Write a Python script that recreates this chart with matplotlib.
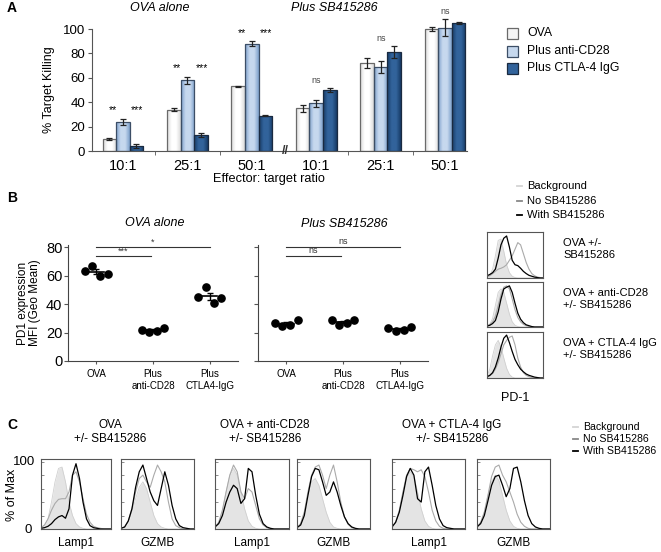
import matplotlib.pyplot as plt
from matplotlib.patches import Rectangle
from matplotlib.lines import Line2D
from matplotlib.colors import LinearSegmentedColormap
import numpy as np

plt.rcParams['font.family'] = ['Liberation Sans', 'DejaVu Sans']

# ---- Panel A: % target killing ----
ratios = ['10:1', '25:1', '50:1', '10:1', '25:1', '50:1']
kill_ova = [10, 34, 53, 35, 72, 100]
kill_ova_err = [1, 1, 0.5, 3, 4, 1.5]
kill_cd28 = [24, 58, 88, 39, 69, 101]
kill_cd28_err = [2.5, 3, 2, 3, 5, 7]
kill_ctla4 = [4, 13, 29, 50, 81, 105]
kill_ctla4_err = [1.5, 1.5, 0.5, 2, 5, 0.5]
kill_sig = ['stars', 'stars', 'stars', 'ns', 'ns', 'ns']
kill_labels = ['OVA', 'Plus anti-CD28', 'Plus CTLA-4 IgG']

# ---- Panel B: PD1 MFI ----
pd1_groups = ['OVA', 'Plus\nanti-CD28', 'Plus\nCTLA4-IgG']
pd1_ova_alone = [[63, 67, 60, 61], [22, 20.5, 21, 23], [45, 52, 41, 44]]
pd1_plus_sb = [[26.5, 24.5, 25.5, 28.5], [28.5, 25.5, 26.5, 29], [23, 21, 22, 24]]
pd1_sig_ova = ['***', '*']
pd1_sig_sb = ['ns', 'ns']
pd1_hist_labels = ['OVA +/-\nSB415286', 'OVA + anti-CD28\n+/- SB415286',
                   'OVA + CTLA-4 IgG\n+/- SB415286']

# histogram curves (% of max) sampled on 21 even steps across each box
pd1_bg = [
    [2, 5, 20, 50, 85, 88, 60, 30, 12, 4, 1, 0, 0, 0, 0, 0, 0, 0, 0, 0, 0],
    [2, 6, 20, 50, 80, 88, 80, 55, 30, 12, 4, 1, 0, 0, 0, 0, 0, 0, 0, 0, 0],
    [5, 20, 50, 75, 85, 70, 45, 22, 8, 2, 0, 0, 0, 0, 0, 0, 0, 0, 0, 0, 0],
]
pd1_nosb = [
    [3, 5, 10, 15, 20, 22, 25, 30, 40, 50, 65, 80, 75, 55, 35, 20, 10, 5, 2, 1, 0],
    [3, 6, 12, 25, 50, 75, 92, 95, 88, 65, 40, 22, 12, 6, 3, 1, 0, 0, 0, 0, 0],
    [2, 5, 10, 20, 35, 55, 75, 85, 92, 95, 75, 45, 25, 12, 6, 3, 1, 0, 0, 0, 0],
]
pd1_withsb = [
    [5, 8, 12, 20, 45, 75, 90, 95, 70, 40, 30, 28, 22, 15, 10, 6, 4, 2, 1, 0, 0],
    [2, 4, 8, 15, 35, 65, 88, 92, 95, 80, 55, 32, 18, 10, 5, 3, 1, 0, 0, 0, 0],
    [3, 6, 12, 25, 45, 70, 90, 97, 80, 60, 42, 30, 20, 14, 9, 6, 4, 2, 1, 0, 0],
]

# ---- Panel C: Lamp1 / GZMB ----
c_titles = ['OVA\n+/- SB415286', 'OVA + anti-CD28\n+/- SB415286',
            'OVA + CTLA-4 IgG\n+/- SB415286']
c_markers = ['Lamp1', 'GZMB', 'Lamp1', 'GZMB', 'Lamp1', 'GZMB']
c_bg = [
    [2, 5, 15, 40, 70, 90, 92, 70, 40, 20, 8, 3, 1, 0, 0, 0, 0, 0, 0, 0, 0],
    [1, 3, 10, 25, 45, 62, 70, 60, 40, 20, 8, 3, 1, 0, 0, 0, 0, 0, 0, 0, 0],
    [2, 8, 25, 55, 80, 90, 80, 55, 30, 12, 4, 1, 0, 0, 0, 0, 0, 0, 0, 0, 0],
    [2, 8, 25, 50, 70, 75, 65, 45, 25, 10, 3, 1, 0, 0, 0, 0, 0, 0, 0, 0, 0],
    [2, 8, 25, 55, 75, 85, 78, 55, 30, 12, 4, 1, 0, 0, 0, 0, 0, 0, 0, 0, 0],
    [2, 8, 25, 50, 70, 80, 72, 50, 28, 12, 4, 1, 0, 0, 0, 0, 0, 0, 0, 0, 0],
]
c_nosb = [
    [2, 6, 15, 28, 38, 44, 45, 45, 55, 80, 85, 70, 45, 22, 10, 4, 2, 1, 0, 0, 0],
    [1, 3, 12, 30, 55, 75, 80, 70, 62, 80, 95, 85, 70, 40, 15, 5, 2, 0, 0, 0, 0],
    [3, 10, 28, 55, 80, 95, 85, 55, 45, 60, 55, 35, 15, 6, 2, 0, 0, 0, 0, 0, 0],
    [2, 8, 25, 55, 80, 92, 95, 80, 60, 80, 95, 70, 40, 18, 7, 2, 0, 0, 0, 0, 0],
    [3, 10, 28, 55, 80, 90, 88, 85, 88, 78, 55, 28, 12, 4, 1, 0, 0, 0, 0, 0, 0],
    [3, 10, 25, 50, 78, 92, 95, 80, 70, 55, 40, 22, 10, 4, 1, 0, 0, 0, 0, 0, 0],
]
c_withsb = [
    [1, 2, 4, 8, 14, 18, 20, 16, 30, 80, 97, 75, 40, 15, 5, 2, 1, 0, 0, 0, 0],
    [1, 3, 12, 30, 62, 85, 95, 75, 55, 42, 35, 60, 85, 65, 35, 15, 5, 2, 1, 0, 0],
    [3, 8, 20, 40, 55, 65, 60, 38, 45, 90, 85, 50, 22, 8, 3, 1, 0, 0, 0, 0, 0],
    [2, 6, 20, 50, 78, 90, 88, 70, 50, 55, 70, 55, 35, 18, 8, 3, 1, 0, 0, 0, 0],
    [3, 10, 25, 50, 78, 90, 80, 45, 40, 85, 92, 65, 35, 15, 5, 2, 1, 0, 0, 0, 0],
    [3, 8, 20, 42, 65, 78, 80, 65, 48, 60, 90, 92, 70, 42, 20, 8, 3, 1, 0, 0, 0],
]

W, H = 661, 552
fig = plt.figure(figsize=(W / 100, H / 100), dpi=100)


def rect(l, t, r, b):
    return [l / W, 1 - b / H, (r - l) / W, (b - t) / H]


def ftext(x, y, s, **kw):
    fig.text(x / W, 1 - y / H, s, **kw)


def fline(x0, x1, y, **kw):
    fig.add_artist(Line2D([x0 / W, x1 / W], [1 - y / H, 1 - y / H], **kw))


BG_FILL = '#e4e4e4'
BG_EDGE = '#d0d0d0'
NOSB_C = '#aaaaaa'

# ================= Panel A =================
# y: 0 at px 151, 1.22 px per unit, top of axes at 106
axA = fig.add_axes(rect(92, 151 - 106 * 1.22, 467, 151))
x = np.arange(len(ratios))
bw = 0.21
mids = ['#ffffff', '#c6d8ee', '#32639b']
sides = ['#d9d9d9', '#7c9fcb', '#163a66']
edges = ['#6a6a6a', '#3c4e66', '#1a2a40']
g = np.linspace(0, 1, 64).reshape(1, -1)
for i, (vals, errs) in enumerate([(kill_ova, kill_ova_err),
                                  (kill_cd28, kill_cd28_err),
                                  (kill_ctla4, kill_ctla4_err)]):
    bars = axA.bar(x + (i - 1) * bw, vals, bw, color=mids[i], linewidth=0, zorder=2)
    cmap = LinearSegmentedColormap.from_list('b%d' % i, [sides[i], mids[i], mids[i], sides[i]])
    for b in bars:
        im = axA.imshow(g, cmap=cmap, aspect='auto', zorder=2.1,
                        extent=[b.get_x(), b.get_x() + b.get_width(), 0, b.get_height()])
        im.set_clip_path(b)
    axA.bar(x + (i - 1) * bw, vals, bw, facecolor='none', edgecolor=edges[i],
            linewidth=0.9, zorder=2.2)
    axA.errorbar(x + (i - 1) * bw, vals, yerr=errs, fmt='none', ecolor='#222222',
                 elinewidth=0.9, capsize=2.5, capthick=0.9, clip_on=False, zorder=3)
tops = np.max([np.array(kill_ova) + kill_ova_err, np.array(kill_cd28) + kill_cd28_err,
               np.array(kill_ctla4) + kill_ctla4_err], axis=0)
for i, s in enumerate(kill_sig):
    if s == 'stars':
        axA.text(i - 0.16, tops[i] + 7, '**', ha='center', va='center', fontsize=7.5)
        axA.text(i + 0.22, tops[i] + 7, '***', ha='center', va='center', fontsize=7.5)
    else:
        axA.text(i, tops[i] + 6, 'ns', ha='center', va='center', fontsize=6.5, color='#444444')
axA.set_xlim(-0.48, 5.34)
axA.set_ylim(0, 106)
axA.spines['left'].set_bounds(0, 100)
axA.set_yticks(range(0, 101, 20))
axA.set_xticks(x)
axA.set_xticklabels(ratios)
axA.set_xticks([0.5, 1.5, 3.5, 4.5], minor=True)
axA.tick_params(axis='x', which='major', length=0, labelsize=10.5, pad=6)
axA.tick_params(axis='x', which='minor', length=3, color='#555555')
axA.tick_params(axis='y', length=3, labelsize=9.5, color='#555555', pad=2)
for sp in ['top', 'right']:
    axA.spines[sp].set_visible(False)
for sp in ['left', 'bottom']:
    axA.spines[sp].set_color('#555555')
axA.text(2.52, 0, '//', ha='center', va='center', fontsize=9, fontweight='bold',
         color='#333333', zorder=5)

ftext(7, 8, 'A', fontsize=10, fontweight='bold', va='center')
ftext(160, 8, 'OVA alone', fontsize=9, style='italic', ha='center', va='center')
ftext(334, 8, 'Plus SB415286', fontsize=9, style='italic', ha='center', va='center')
ftext(49, 90, '% Target Killing', fontsize=9, rotation=90, ha='center', va='center')
ftext(269, 179, 'Effector: target ratio', fontsize=9.2, ha='center', va='center')

for i, (lab, yc) in enumerate(zip(kill_labels, [33, 51, 68])):
    fig.add_artist(Rectangle((507 / W, 1 - (yc + 5.5) / H), 11 / W, 11 / H,
                             facecolor=mids[i] if i else '#f4f4f4', edgecolor=edges[i],
                             linewidth=0.9))
    ftext(527, yc, lab, fontsize=8.8, va='center')

# ================= Panel B =================
ftext(7, 198, 'B', fontsize=10, fontweight='bold', va='center')


def dot_panel(ax, data, sigs):
    offs = [-0.2, -0.07, 0.07, 0.2]
    for gi, vals in enumerate(data):
        ax.plot([gi + o for o in offs], vals, 'o', color='black', ms=5.2, zorder=3,
                clip_on=False)
        m = np.mean(vals)
        sem = np.std(vals, ddof=1) / np.sqrt(len(vals))
        ax.plot([gi - 0.13, gi + 0.13], [m, m], color='black', lw=1.2, zorder=4)
        ax.errorbar(gi, m, yerr=sem, fmt='none', ecolor='black', elinewidth=1,
                    capsize=2.5, capthick=1, zorder=4)
    ax.plot([0, 0.96], [73.7, 73.7], color='#333333', lw=0.8, clip_on=False)
    ax.text(0.48, 74.3, sigs[0], ha='center', va='bottom', fontsize=6.5, color='#333333')
    ax.plot([0, 2.0], [80, 80], color='#333333', lw=0.8, clip_on=False)
    ax.text(1.0, 80.6, sigs[1], ha='center', va='bottom', fontsize=6.5, color='#333333')
    ax.set_xlim(-0.5, 2.5)
    ax.set_ylim(0, 81.5)
    ax.set_yticks(range(0, 81, 20))
    ax.set_xticks(range(3))
    ax.set_xticklabels(pd1_groups, fontsize=7)
    ax.tick_params(axis='x', length=2, pad=4, color='#555555')
    ax.tick_params(axis='y', length=3, labelsize=10.5, pad=1, color='#555555')
    for sp in ['top', 'right']:
        ax.spines[sp].set_visible(False)
    for sp in ['left', 'bottom']:
        ax.spines[sp].set_color('#444444')


axB1 = fig.add_axes(rect(68, 245, 238, 361))
dot_panel(axB1, pd1_ova_alone, pd1_sig_ova)
axB2 = fig.add_axes(rect(258, 245, 428, 361))
dot_panel(axB2, pd1_plus_sb, pd1_sig_sb)
axB2.set_yticklabels([])

ftext(155, 223, 'OVA alone', fontsize=9, style='italic', ha='center', va='center')
ftext(344, 224, 'Plus SB415286', fontsize=9, style='italic', ha='center', va='center')
ftext(29, 303, 'PD1 expression\nMFI (Geo Mean)', fontsize=8.5, rotation=90,
      ha='center', va='center', linespacing=1.1)

grid = np.linspace(0, 1, 21)


def hist_box(ax, bg, nosb, withsb):
    ax.fill_between(grid, 0, bg, color=BG_FILL, lw=0)
    ax.plot(grid, bg, color=BG_EDGE, lw=0.6)
    ax.plot(grid, nosb, color=NOSB_C, lw=0.8)
    ax.plot(grid, withsb, color='black', lw=0.9)
    ax.set_xlim(0, 1)
    ax.set_ylim(0, 104)
    for sp in ax.spines.values():
        sp.set_color('#555555')
        sp.set_linewidth(0.8)


for k, (t, b) in enumerate([(232, 278), (282, 327), (332, 378)]):
    ax = fig.add_axes(rect(487, t, 543, b))
    hist_box(ax, pd1_bg[k], pd1_nosb[k], pd1_withsb[k])
    ax.set_xticks([])
    ax.set_yticks([])
    ftext(563, (t + b) / 2 - 6, pd1_hist_labels[k], fontsize=8, va='center',
          linespacing=1.25)
ftext(515, 398, 'PD-1', fontsize=9, ha='center', va='center')


def legend3(x0, ys, size):
    for lab, c, y in zip(['Background', 'No SB415286', 'With SB415286'],
                         ['#d4d4d4', '#888888', 'black'], ys):
        fline(x0, x0 + 5, y, color=c, lw=1.3)
        ftext(x0 + 10, y, lab, fontsize=size, va='center')


legend3(517, [186, 201, 215], 8)

# ================= Panel C =================
ftext(7, 425, 'C', fontsize=10, fontweight='bold', va='center')
boxes = [(41, 111), (121, 194), (215, 289), (297, 370), (392, 465), (477, 550)]
for k, (l, r) in enumerate(boxes):
    ax = fig.add_axes(rect(l, 459, r, 529))
    hist_box(ax, c_bg[k], c_nosb[k], c_withsb[k])
    ax.set_xticks([])
    ax.set_yticks(range(0, 101, 20))
    ax.tick_params(axis='y', direction='in', length=2, width=0.6, color='#777777',
                   labelleft=False)
    ftext((l + r) / 2, 543, c_markers[k], fontsize=8.5, ha='center', va='center')
ftext(35, 462, '100', fontsize=9.5, ha='right', va='center')
ftext(32, 530, '0', fontsize=9.5, ha='right', va='center')
ftext(12, 495, '% of Max', fontsize=9, rotation=90, ha='center', va='center')
for t, xc in zip(c_titles, [110, 265, 452]):
    ftext(xc, 432, t, fontsize=8.5, ha='center', va='center', linespacing=1.2)
legend3(573, [427, 439, 451], 7.6)

fig.savefig('out.png', dpi=100)
